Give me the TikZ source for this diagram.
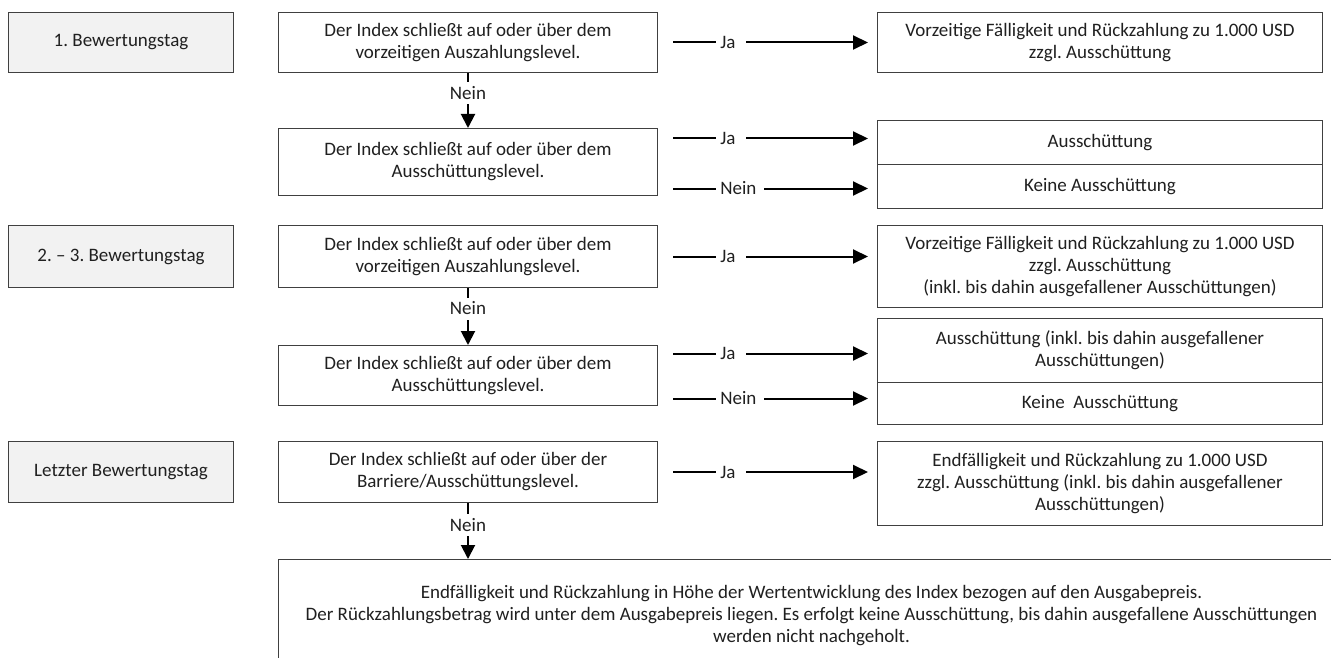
\documentclass[tikz,border=0pt]{standalone}
\usepackage{fontspec}
\setmainfont{Carlito}
\usetikzlibrary{arrows.meta,calc}
\definecolor{edge}{HTML}{404040}
\definecolor{dayfill}{HTML}{F2F2F2}
\definecolor{txt}{HTML}{202020}
\frenchspacing
\begin{document}
\begin{tikzpicture}[x=1pt,y=-1pt,
  every node/.style={font=\fontsize{19}{22}\selectfont, text=txt},
  box/.style={draw=edge, line width=1pt, fill=white, align=center, inner sep=0pt, anchor=north west},
  day/.style={box, fill=dayfill, minimum width=225pt},
  cond/.style={box, minimum width=379pt},
  res/.style={box, minimum width=445pt},
  harr/.style={line width=2pt, shorten <=15pt, shorten >=9pt, -{Triangle[length=15pt,width=14pt]}},
  darr/.style={line width=2pt, -{Triangle[length=14pt,width=14pt]}},
  hl/.style={anchor=west, fill=white, inner sep=0pt, minimum height=14pt},
  dl/.style={fill=white, inner sep=0pt, minimum height=22pt}]
\useasboundingbox (0,0) rectangle (1331,658);
\clip (0,0) rectangle (1331,658);
\fill[white] (0,0) rectangle (1331,658);

% day boxes
\node[day, minimum height=60pt] (d1) at (8,12) {1. Bewertungstag};
\node[day, minimum height=62pt] (d2) at (8,225) {2. – 3. Bewertungstag};
\node[day, minimum height=61pt] (d3) at (8,441) {Letzter Bewertungstag};

% condition boxes
\node[cond, minimum height=60pt] (c1) at (278,12) {Der Index schließt auf oder über dem\\vorzeitigen Auszahlungslevel.};
\node[cond, minimum height=67pt] (c2) at (278,128) {Der Index schließt auf oder über dem\\Ausschüttungslevel.};
\node[cond, minimum height=62pt] (c3) at (278,225) {Der Index schließt auf oder über dem\\vorzeitigen Auszahlungslevel.};
\node[cond, minimum height=60pt] (c4) at (278,345) {Der Index schließt auf oder über dem\\Ausschüttungslevel.};
\node[cond, minimum height=61pt] (c5) at (278,441) {Der Index schließt auf oder über der\\Barriere/Ausschüttungslevel.};

% result boxes
\node[res, minimum height=60pt] (r1) at (877,12) {Vorzeitige Fälligkeit und Rückzahlung zu 1.000 USD\\zzgl. Ausschüttung};
\node[res, minimum height=44pt] (r2a) at (877,120) {Ausschüttung};
\node[res, minimum height=44pt] (r2b) at (877,164) {Keine Ausschüttung};
\node[res, minimum height=82pt] (r3) at (877,225) {Vorzeitige Fälligkeit und Rückzahlung zu 1.000 USD\\zzgl. Ausschüttung\\(inkl. bis dahin ausgefallener Ausschüttungen)};
\node[res, minimum height=64pt] (r4a) at (877,318) {Ausschüttung (inkl. bis dahin ausgefallener\\Ausschüttungen)};
\node[res, minimum height=42pt] (r4b) at (877,382) {Keine\ \ Ausschüttung};
\node[res, minimum height=84pt] (r5) at (877,441) {Endfälligkeit und Rückzahlung zu 1.000 USD\\zzgl. Ausschüttung (inkl. bis dahin ausgefallener\\Ausschüttungen)};

% final box (cut by the picture edge)
\node[box, minimum width=1066pt, minimum height=112pt] (e) at (278,559) {Endfälligkeit und Rückzahlung in Höhe der Wertentwicklung des Index bezogen auf den Ausgabepreis.\\Der Rückzahlungsbetrag wird unter dem Ausgabepreis liegen. Es erfolgt keine Ausschüttung, bis dahin ausgefallene Ausschüttungen\\werden nicht nachgeholt.};

% arrow start coordinates
\path (c2.east) ++(0,-23.5) coordinate (a2j);
\path (c2.east) ++(0,26.5) coordinate (a2n);
\path (c4.east) ++(0,-22) coordinate (a4j);
\path (c4.east) ++(0,23) coordinate (a4n);

% horizontal arrows
\draw[harr] (c1.east) -- (r1.west) node[hl, pos=.262] {\kern4pt Ja\kern10pt};
\draw[harr] (a2j) -- (a2j -| r2a.west) node[hl, pos=.262] {\kern4pt Ja\kern10pt};
\draw[harr] (a2n) -- (a2n -| r2b.west) node[hl, pos=.262] {\kern4pt Nein\kern8pt};
\draw[harr] (c3.east) -- (c3.east -| r3.west) node[hl, pos=.262] {\kern4pt Ja\kern10pt};
\draw[harr] (a4j) -- (a4j -| r4a.west) node[hl, pos=.262] {\kern4pt Ja\kern10pt};
\draw[harr] (a4n) -- (a4n -| r4b.west) node[hl, pos=.262] {\kern4pt Nein\kern8pt};
\draw[harr] (c5.east) -- (c5.east -| r5.west) node[hl, pos=.262] {\kern4pt Ja\kern10pt};

% vertical arrows
\draw[darr] (c1.south) -- (c2.north) node[dl, pos=.36] {Nein};
\draw[darr] (c3.south) -- (c4.north) node[dl, pos=.36] {Nein};
\draw[darr] (c5.south) -- (c5.south |- e.north) node[dl, pos=.385] {Nein};
\end{tikzpicture}
\end{document}
